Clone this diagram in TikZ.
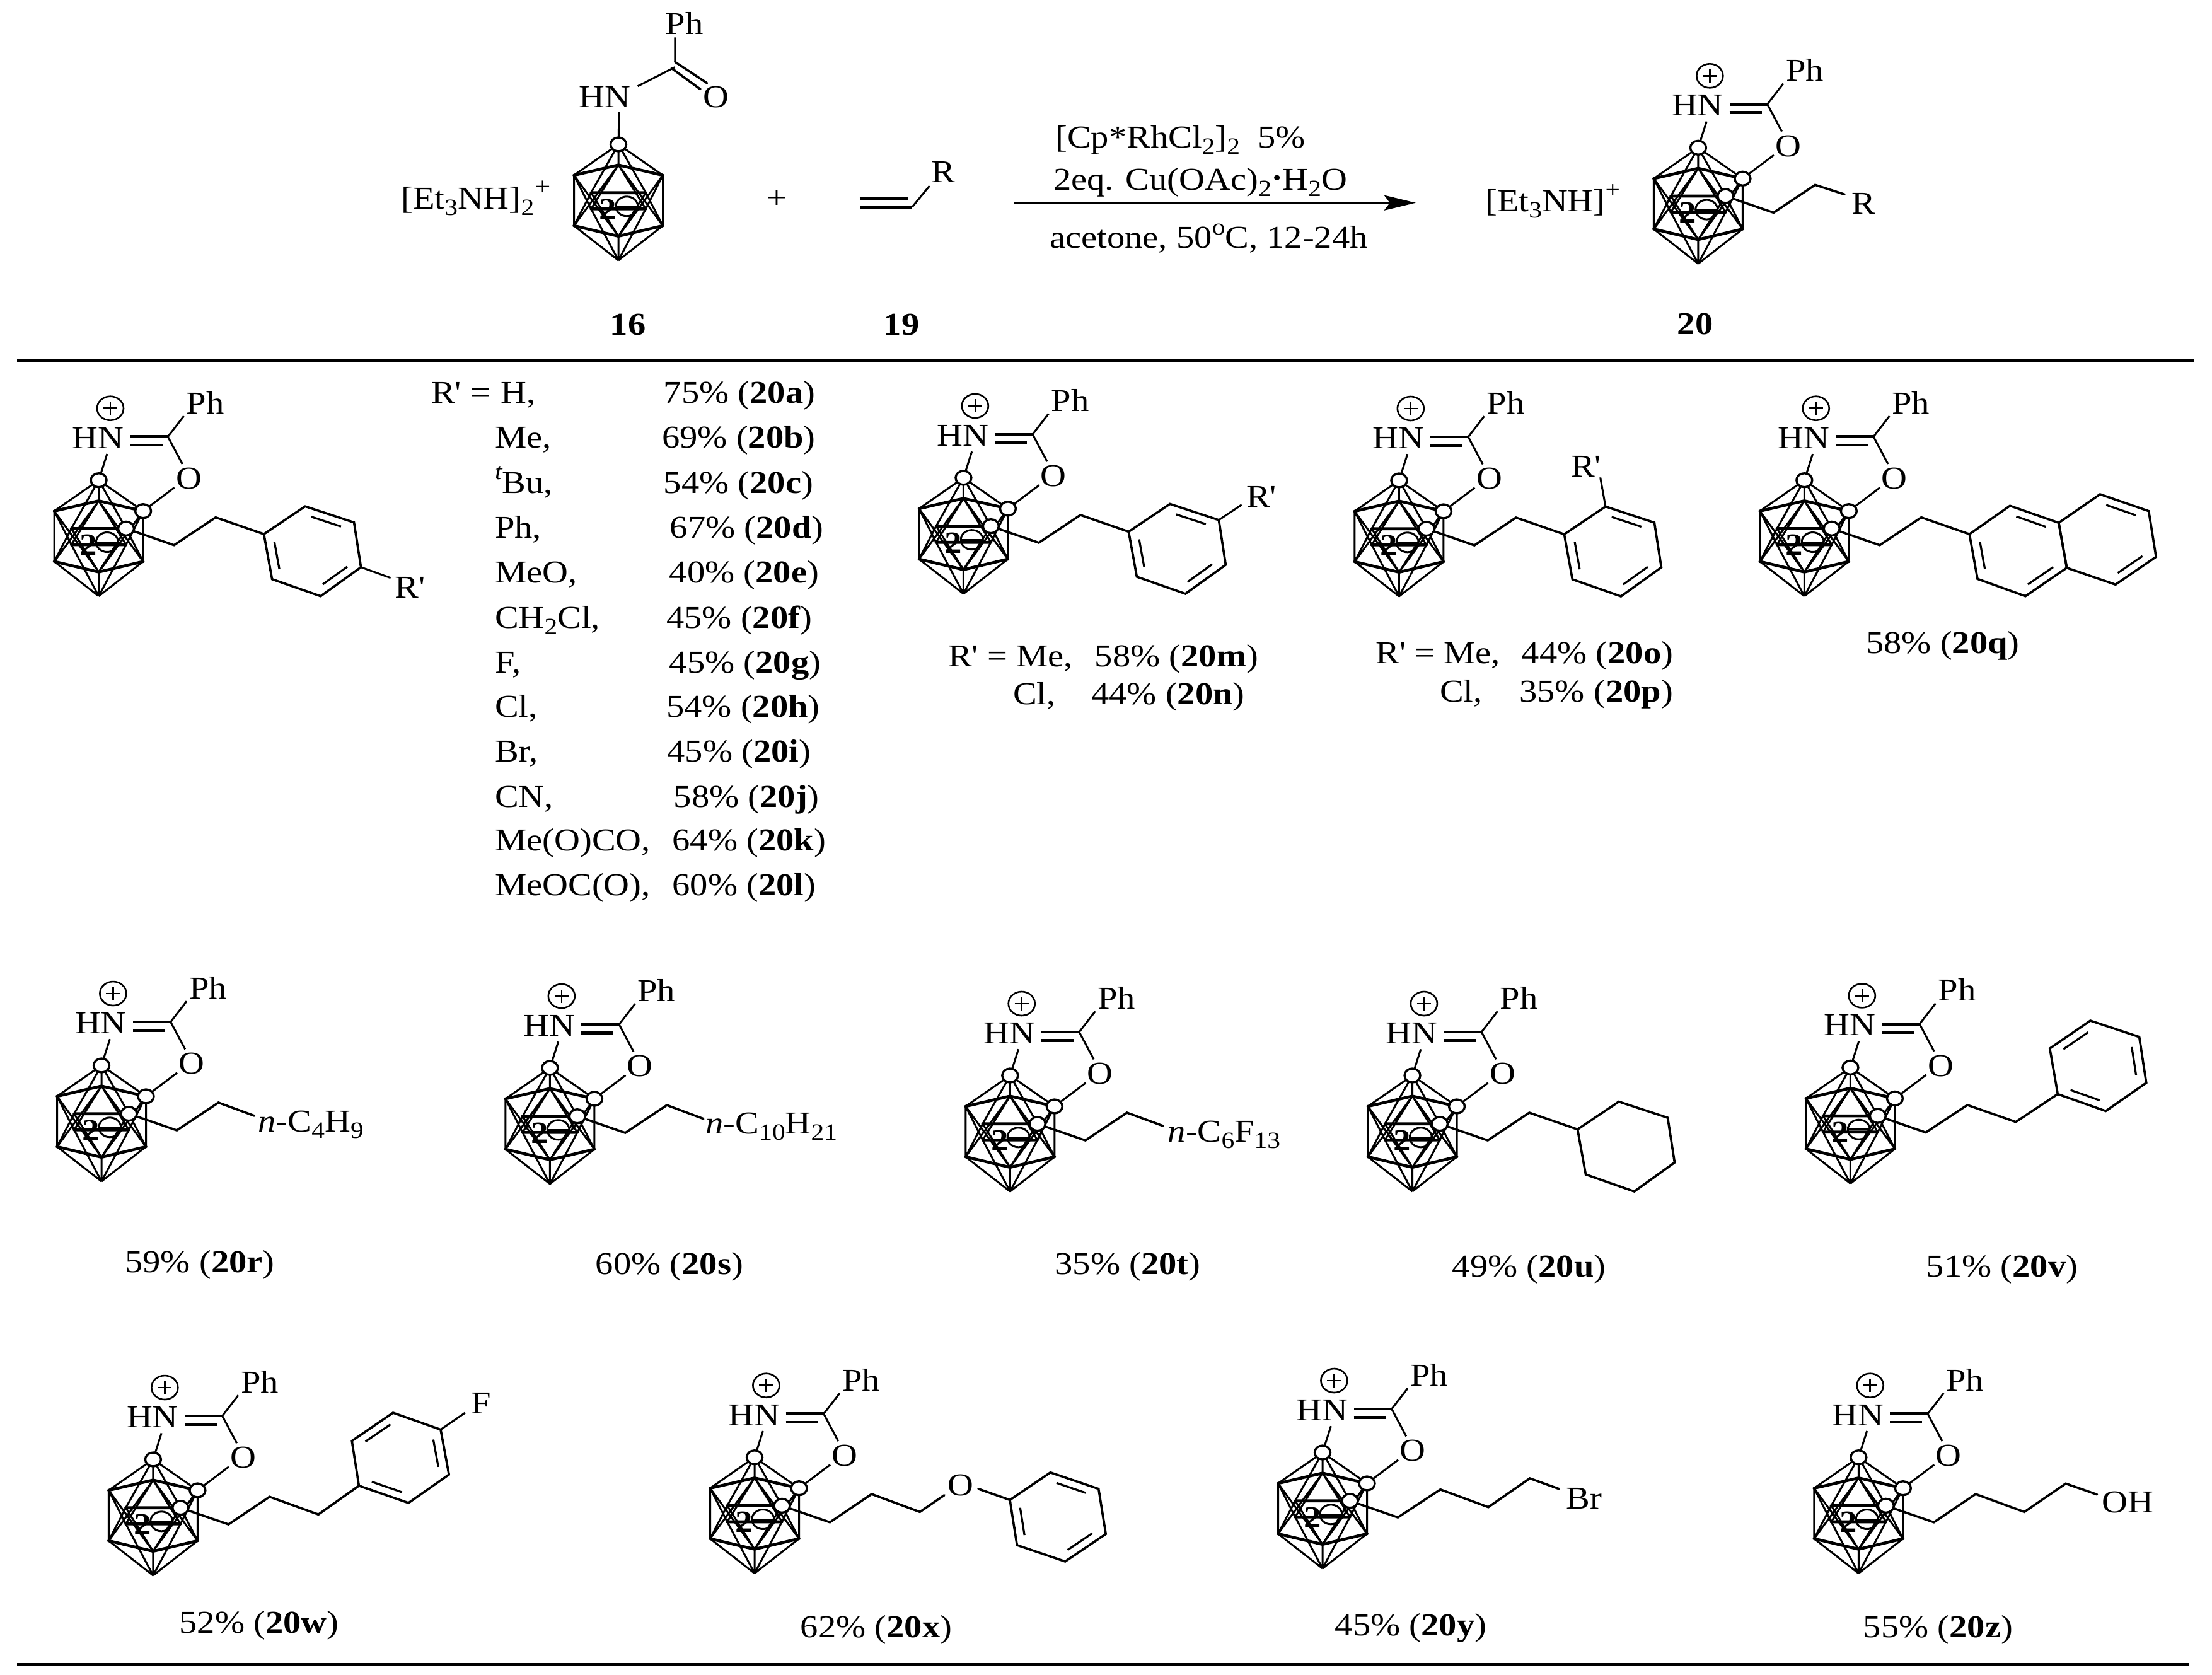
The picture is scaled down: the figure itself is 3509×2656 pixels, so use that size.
\documentclass[tikz,border=0pt]{standalone}
\usepackage{fontspec}
\usetikzlibrary{calc,shapes.geometric,arrows.meta}
\newfontfamily\tf[FakeStretch=1.12]{Liberation Serif}
\newcommand\mysub[1]{\raisebox{-.2em}{\fontsize{37}{37}\selectfont #1}}
\newcommand\mysup[1]{\raisebox{.42em}{\fontsize{37}{37}\selectfont #1}}
\newcommand\yl[2]{#1\% (\textbf{#2})}
\tikzset{
  bond/.style={line width=3.6pt,line cap=round,line join=miter},
  thickb/.style={line width=4.6pt,line cap=round},
  thinb/.style={line width=3pt},
  inbond/.style={line width=3.2pt},
  lab/.style={inner sep=0pt,font=\tf\fontsize{50.5}{60}\selectfont},
  txt/.style={lab,anchor=base west},
  ctr/.style={lab,anchor=base},
  ball/.style={ellipse,draw,line width=3.4pt,fill=white,minimum width=25pt,minimum height=22pt,inner sep=0pt},
  rule/.style={line width=4.4pt}
}
% the borane cage, origin at the apex vertex
\newcommand\cagemol[3]{%
 \begin{scope}[shift={(#2,#3)}]
  \coordinate (#1-A) at (0,0);
  \coordinate (#1-LT) at (-70.5,49);
  \coordinate (#1-RT) at (70.5,49);
  \coordinate (#1-LB) at (-70.5,129);
  \coordinate (#1-RB) at (70.5,129);
  \coordinate (#1-Bt) at (0,184);
  \coordinate (#1-UI) at (0,32.7);
  \coordinate (#1-LI) at (0,145.7);
  \coordinate (#1-MLt) at (-43.4,76.7);
  \coordinate (#1-MRt) at (43.4,76.7);
  \coordinate (#1-MLb) at (-43.4,102.3);
  \coordinate (#1-MRb) at (43.4,102.3);
  \coordinate (#1-T1) at (119.5,103);
  \coordinate (#1-T2) at (185.5,59);
  \coordinate (#1-R0) at (262,85.5);
  \coordinate (#1-R1) at (327.5,41.5);
  \coordinate (#1-R2) at (405,67);
  \coordinate (#1-R3) at (416,138);
  \coordinate (#1-R4) at (352,184);
  \coordinate (#1-R5) at (275,157);
  \draw[thinb] (#1-A)--(#1-LT) (#1-A)--(#1-RT) (#1-A)--(#1-UI) (#1-A)--(#1-MLt) (#1-A)--(#1-MRt)
    (#1-LT)--(#1-LB) (#1-RT)--(#1-RB)
    (#1-LT)--(#1-MLb) (#1-LT)--(#1-LI)
    (#1-LB)--(#1-MLt) (#1-LB)--(#1-UI)
    (#1-RT)--(#1-MRb) (#1-RT)--(#1-LI)
    (#1-RB)--(#1-MRt) (#1-RB)--(#1-UI)
    (#1-UI)--(#1-MLb) (#1-UI)--(#1-MRb) (#1-LI)--(#1-MLt) (#1-LI)--(#1-MRt)
    (#1-Bt)--(#1-LB) (#1-Bt)--(#1-RB) (#1-Bt)--(#1-LI) (#1-Bt)--(#1-MLb) (#1-Bt)--(#1-MRb);
  \draw[thickb] (#1-LT)--(#1-UI)--(#1-RT) (#1-LB)--(#1-LI)--(#1-RB) (#1-MLt)--(#1-MRt) (#1-MLb)--(#1-MRb);
  \node[ellipse,draw,line width=3pt,minimum width=35pt,minimum height=31pt,inner sep=0pt] (#1-minus) at (13.3,98.3) {};
  \draw[line width=3pt] (-4,98.3)--(30.6,98.3);
  \node[lab,font=\tf\fontsize{49}{50}\selectfont\bfseries] (#1-two) at (-16.3,103) {2};
 \end{scope}}
% amidine ring on the cage
\newcommand\core[1]{%
 \begin{scope}[shift={(#1-A)}]
  \node[lab] (#1-HN) at (-1,-67) {HN};
  \node[lab] (#1-Ph) at (169,-123) {Ph};
  \node[lab] (#1-O) at (143,-2.7) {O};
  \node[ellipse,draw,line width=2.6pt,minimum width=42pt,minimum height=38pt,inner sep=0pt] (#1-plus) at (18.4,-114) {};
  \draw[line width=2.6pt] (7.4,-114)--(29.4,-114) (18.4,-124.5)--(18.4,-103.5);
  \coordinate (#1-C) at (109.7,-69);
  \coordinate (#1-Na) at (49.7,-69);
  \coordinate (#1-Nb) at (49.7,-55.7);
  \coordinate (#1-Cb) at (101,-55.7);
  \coordinate (#1-Pe) at (135,-101.7);
  \coordinate (#1-Oa) at (132.7,-25.7);
  \coordinate (#1-Ob) at (120,11.7);
  \coordinate (#1-Nc) at (13.3,-41.7);
  \draw[thickb,line cap=butt] (#1-Na)--(#1-C) (#1-Nb)--(#1-Cb);
  \draw[thinb] (#1-Pe)--(#1-C)--(#1-Oa) (#1-Nc)--(#1-A) (#1-Ob)--(#1-RT);
 \end{scope}}
\newcommand\balls[1]{%
  \node[ball] (#1-b0) at (#1-A) {};
  \node[ball] (#1-b1) at (#1-RT) {};
  \node[ball] (#1-b2) at (#1-MRt) {};}
\newcommand\hexring[7]{%
  \draw[bond,line cap=butt,line join=miter] (#2)--(#3)--(#4)--(#5)--(#6)--(#7)--cycle;
  \coordinate (#1-c) at ($(#2)!.5!(#5)$);}
\newcommand\dbl[3]{\draw[inbond] ($($(#1)!.12!(#2)$)!.2!(#3)$) -- ($($(#2)!.12!(#1)$)!.2!(#3)$);}
\newcommand\trow[6]{%
  \node[txt] (lab#1) at (784.9,#2) {#3};
  \node[txt] (yld#1) at (#4,#2) {\yl{#5}{#6}};}
\begin{document}
\begin{tikzpicture}[x=1pt,y=-1pt]
\useasboundingbox (0,0) rectangle (3509,2656);
\fill[white] (0,0) rectangle (3509,2656);
% rules
\coordinate (ruleAl) at (27,572.3); \coordinate (ruleAr) at (3480,572.3);
\coordinate (ruleBl) at (27,2640); \coordinate (ruleBr) at (3473,2640);
\draw[rule] (ruleAl)--(ruleAr);
\draw[rule] (ruleBl)--(ruleBr);
% ---- 16
\node[txt] (cat16) at (636,331) {[Et\mysub3NH]\mysub2\hspace{.02em}\raisebox{.42em}{\fontsize{40}{40}\selectfont +}};
\cagemol{s16}{981}{229}
\node[lab] (s16-HN) at (959.7,154) {HN};
\node[lab] (s16-Ph) at (1085.7,37.3) {Ph};
\node[lab] (s16-O) at (1135.7,154) {O};
\coordinate (s16-c) at (1070.9,98.3); \coordinate (s16-p) at (1070.9,59.3);
\coordinate (s16-n) at (1011.7,136.7); \coordinate (s16-c2) at (1070.4,106.7);
\coordinate (s16-o1) at (1121.4,131.7); \coordinate (s16-o2) at (1111.2,141.7); \coordinate (s16-c3) at (1065.3,108.3);
\coordinate (s16-d) at (982,177.3);
\draw[thinb] (s16-p)--(s16-c) (s16-n)--(s16-c2) (s16-d)--(s16-A);
\draw[bond] (s16-c)--(s16-o1) (s16-c3)--(s16-o2);
\node[ball] (s16-b0) at (s16-A) {};
\node[ctr] (n16) at (996,531) {\textbf{16}};
\node[lab] (plus) at (1232.7,316) {+};
% ---- 19
\coordinate (e1) at (1363.8,328.3); \coordinate (e2) at (1447,328.3); \coordinate (e3) at (1474.5,295);
\coordinate (e4) at (1363.8,315); \coordinate (e5) at (1440,315);
\draw[thickb,line cap=butt] (e1)--(e2) (e4)--(e5);
\draw[thinb] (e2)--(e3);
\node[lab] (e-R) at (1496.4,273.3) {R};
\node[ctr] (n19) at (1430,531) {\textbf{19}};
% ---- arrow
\coordinate (arrS) at (1607.5,321.7); \coordinate (arrE) at (2245.8,321.7);
\draw[line width=3.4pt,-{Stealth[length=50pt,width=24pt,inset=9pt]}] (arrS)--(arrE);
\node[txt] (c1) at (1674,234) {[Cp*RhCl\mysub2]\mysub2\ \ 5\%};
\node[txt] (c2) at (1671,301) {2eq. Cu(OAc)\mysub2\hspace{.04em}\raisebox{.14em}{\fontsize{34}{34}\selectfont\textbullet}\hspace{.04em}H\mysub2O};
\node[txt] (c3) at (1665,393.3) {acetone, 50\mysup{o}C, 12-24h};
% ---- 20
\cagemol{s20}{2693.9}{234.3}
\core{s20}
\coordinate (s20-E) at (2925.9,308.3);
\draw[bond] (s20-MRt)--(s20-T1)--(s20-T2)--(s20-E);
\balls{s20}
\node[lab] (s20-R) at (2956.7,323.3) {R};
\node[txt] (cat20) at (2356,335) {[Et\mysub3NH]\mysup{+}};
\node[ctr] (n20) at (2689,530) {\textbf{20}};
% ---- a
\cagemol{a}{156.6}{761.7}
\core{a}
\draw[bond] (a-MRt)--(a-T1)--(a-T2)--(a-R0);
\hexring{ar}{a-R0}{a-R1}{a-R2}{a-R3}{a-R4}{a-R5}
\dbl{a-R1}{a-R2}{ar-c}\dbl{a-R3}{a-R4}{ar-c}\dbl{a-R5}{a-R0}{ar-c}
\coordinate (a-Q) at (619.6,916.7);
\draw[thinb] (a-R3)--(a-Q);
\node[lab] (a-Rp) at (650.6,931.7) {R'};
\balls{a}
% table
\node[txt] (rp) at (684,639.4) {R' =};
\node[txt] (labA) at (794,639.4) {H,};
\node[txt] (yldA) at (1052.6,639.4) {\yl{75}{20a}};
\trow{B}{710.7}{Me,}{1050}{69}{20b}
\trow{C}{782}{\mysup{\itshape t}Bu,}{1052.6}{54}{20c}
\trow{D}{853.3}{Ph,}{1062.7}{67}{20d}
\trow{E}{924.6}{MeO,}{1061.7}{40}{20e}
\trow{F}{996}{CH\mysub2Cl,}{1057}{45}{20f}
\trow{G}{1067}{F,}{1061.7}{45}{20g}
\trow{H}{1137.5}{Cl,}{1057}{54}{20h}
\trow{I}{1208.8}{Br,}{1058.5}{45}{20i}
\trow{J}{1280}{CN,}{1068.6}{58}{20j}
\trow{K}{1349.7}{Me(O)CO,}{1066.3}{64}{20k}
\trow{L}{1420}{MeOC(O),}{1066.3}{60}{20l}
% ---- m
\cagemol{m}{1528.4}{757.9}
\core{m}
\draw[bond] (m-MRt)--(m-T1)--(m-T2)--(m-R0);
\hexring{mr}{m-R0}{m-R1}{m-R2}{m-R3}{m-R4}{m-R5}
\dbl{m-R1}{m-R2}{mr-c}\dbl{m-R3}{m-R4}{mr-c}\dbl{m-R5}{m-R0}{mr-c}
\coordinate (m-Q) at (1969.6,800.7);
\draw[thinb] (m-R2)--(m-Q);
\node[lab] (m-Rp) at (2001,788.2) {R'};
\balls{m}
\node[txt] (m-l1) at (1503.8,1057.9) {R' = Me,};
\node[txt] (m-y1) at (1736.7,1057.9) {\yl{58}{20m}};
\node[txt] (m-l2) at (1607,1117.9) {Cl,};
\node[txt] (m-y2) at (1731,1117.9) {\yl{44}{20n}};
% ---- o
\cagemol{o}{2219.4}{762}
\core{o}
\draw[bond] (o-MRt)--(o-T1)--(o-T2)--(o-R0);
\hexring{or}{o-R0}{o-R1}{o-R2}{o-R3}{o-R4}{o-R5}
\dbl{o-R1}{o-R2}{or-c}\dbl{o-R3}{o-R4}{or-c}\dbl{o-R5}{o-R0}{or-c}
\coordinate (o-Q) at (2538.6,757.3);
\draw[thinb] (o-R1)--(o-Q);
\node[lab] (o-Rp) at (2516,740) {R'};
\balls{o}
\node[txt] (o-l1) at (2182.2,1052.5) {R' = Me,};
\node[txt] (o-y1) at (2413.7,1052.5) {\yl{44}{20o}};
\node[txt] (o-l2) at (2283.9,1113) {Cl,};
\node[txt] (o-y2) at (2410.2,1113) {\yl{35}{20p}};
% ---- q
\cagemol{q}{2862.3}{761.7}
\core{q}
\coordinate (q1) at (3124.2,847.3); \coordinate (q2) at (3188.5,802.3); \coordinate (q3) at (3265.8,829.3);
\coordinate (q4) at (3278.6,900.7); \coordinate (q5) at (3213,945.7); \coordinate (q6) at (3137,918.3);
\coordinate (q7) at (3331.4,784); \coordinate (q8) at (3408.6,810.7); \coordinate (q9) at (3420.2,883.3); \coordinate (q10) at (3355.9,927.3);
\draw[bond] (q-MRt)--(q-T1)--(q-T2)--(q1);
\hexring{qa}{q1}{q2}{q3}{q4}{q5}{q6}
\hexring{qb}{q3}{q7}{q8}{q9}{q10}{q4}
\dbl{q2}{q3}{qa-c}\dbl{q4}{q5}{qa-c}\dbl{q6}{q1}{qa-c}
\dbl{q7}{q8}{qb-c}\dbl{q9}{q10}{qb-c}
\balls{q}
\node[ctr] (q-y) at (3082,1036.7) {\yl{58}{20q}};
% ---- r
\cagemol{r}{161}{1690}
\core{r}
\coordinate (r-E) at (403.7,1770);
\draw[bond] (r-MRt)--(r-T1)--(r-T2)--(r-E);
\balls{r}
\node[txt] (r-T) at (409.4,1795) {\textit{n}-C\mysub4H\mysub9};
\node[ctr] (r-y) at (317,2018.3) {\yl{59}{20r}};
% ---- s
\cagemol{s}{872.4}{1694}
\core{s}
\coordinate (s-E) at (1115.8,1774.7);
\draw[bond] (s-MRt)--(s-T1)--(s-T2)--(s-E);
\balls{s}
\node[txt] (s-T) at (1119.3,1798.6) {\textit{n}-C\mysub{10}H\mysub{21}};
\node[ctr] (s-y) at (1062,2021.7) {\yl{60}{20s}};
% ---- t
\cagemol{t}{1602.3}{1706}
\core{t}
\coordinate (t-E) at (1845,1786);
\draw[bond] (t-MRt)--(t-T1)--(t-T2)--(t-E);
\balls{t}
\node[txt] (t-T) at (1852.5,1811.4) {\textit{n}-C\mysub6F\mysub{13}};
\node[ctr] (t-y) at (1789,2021.7) {\yl{35}{20t}};
% ---- u
\cagemol{u}{2240.5}{1706}
\core{u}
\draw[bond] (u-MRt)--(u-T1)--(u-T2)--(u-R0);
\hexring{ur}{u-R0}{u-R1}{u-R2}{u-R3}{u-R4}{u-R5}
\balls{u}
\node[ctr] (u-y) at (2425.7,2025) {\yl{49}{20u}};
% ---- v
\cagemol{v}{2935.4}{1693.4}
\core{v}
\coordinate (v1) at (3264.3,1735.5); \coordinate (v2) at (3251.7,1663.1); \coordinate (v3) at (3316,1619);
\coordinate (v4) at (3393.6,1644.8); \coordinate (v5) at (3404.7,1717.6); \coordinate (v6) at (3340.4,1762.4);
\coordinate (v-x1) at (3120.9,1752.8); \coordinate (v-x2) at (3197.7,1779.7);
\draw[bond] (v-MRt)--(v-T1)--(v-x1)--(v-x2)--(v1);
\hexring{vr}{v1}{v2}{v3}{v4}{v5}{v6}
\dbl{v2}{v3}{vr-c}\dbl{v4}{v5}{vr-c}\dbl{v6}{v1}{vr-c}
\balls{v}
\node[ctr] (v-y) at (3176,2025) {\yl{51}{20v}};
% ---- w
\cagemol{w}{242.9}{2315}
\core{w}
\coordinate (w1) at (569.4,2356.7); \coordinate (w2) at (558.2,2285.7); \coordinate (w3) at (623.5,2241);
\coordinate (w4) at (699,2267.7); \coordinate (w5) at (712.2,2339); \coordinate (w6) at (648,2384);
\coordinate (w-x1) at (427.6,2374.3); \coordinate (w-x2) at (505.1,2402.3); \coordinate (w-F) at (737.8,2241);
\draw[bond] (w-MRt)--(w-T1)--(w-x1)--(w-x2)--(w1);
\hexring{wr}{w1}{w2}{w3}{w4}{w5}{w6}
\dbl{w2}{w3}{wr-c}\dbl{w4}{w5}{wr-c}\dbl{w6}{w1}{wr-c}
\draw[thinb] (w4)--(w-F);
\node[lab] (w-Fl) at (763.3,2226) {F};
\balls{w}
\node[ctr] (w-y) at (411,2590) {\yl{52}{20w}};
% ---- x
\cagemol{x}{1197}{2311.7}
\core{x}
\coordinate (x1) at (1602,2379.3); \coordinate (x2) at (1666.3,2335.7); \coordinate (x3) at (1742.7,2361.7);
\coordinate (x4) at (1754.2,2433.3); \coordinate (x5) at (1689.7,2476.9); \coordinate (x6) at (1613.3,2450.9);
\coordinate (x-a1) at (1382.7,2370); \coordinate (x-a2) at (1459.2,2398.3); \coordinate (x-a3) at (1498,2371.7); \coordinate (x-a4) at (1552,2361.7);
\draw[bond] (x-MRt)--(x-T1)--(x-a1)--(x-a2)--(x-a3);
\node[lab] (x-Oe) at (1523.5,2356) {O};
\draw[bond] (x-a4)--(x1);
\hexring{xr}{x1}{x2}{x3}{x4}{x5}{x6}
\dbl{x2}{x3}{xr-c}\dbl{x4}{x5}{xr-c}\dbl{x6}{x1}{xr-c}
\balls{x}
\node[ctr] (x-y) at (1390,2597.3) {\yl{62}{20x}};
% ---- y
\cagemol{y}{2098}{2304}
\core{y}
\coordinate (y-a1) at (2284.9,2362.7); \coordinate (y-a2) at (2361,2390.7); \coordinate (y-a3) at (2426.8,2345); \coordinate (y-a4) at (2473,2361.7);
\draw[bond] (y-MRt)--(y-T1)--(y-a1)--(y-a2)--(y-a3)--(y-a4);
\node[lab] (y-Br) at (2513,2376.7) {Br};
\balls{y}
\node[ctr] (y-y) at (2238,2594) {\yl{45}{20y}};
% ---- z
\cagemol{z}{2948.3}{2311.7}
\core{z}
\coordinate (z-a1) at (3134,2370); \coordinate (z-a2) at (3211.3,2398.3); \coordinate (z-a3) at (3277,2353.3); \coordinate (z-a4) at (3326.7,2370.7);
\draw[bond] (z-MRt)--(z-T1)--(z-a1)--(z-a2)--(z-a3)--(z-a4);
\node[lab] (z-OH) at (3375,2382.7) {OH};
\balls{z}
\node[ctr] (z-y) at (3074.5,2597.3) {\yl{55}{20z}};
\end{tikzpicture}
\end{document}
